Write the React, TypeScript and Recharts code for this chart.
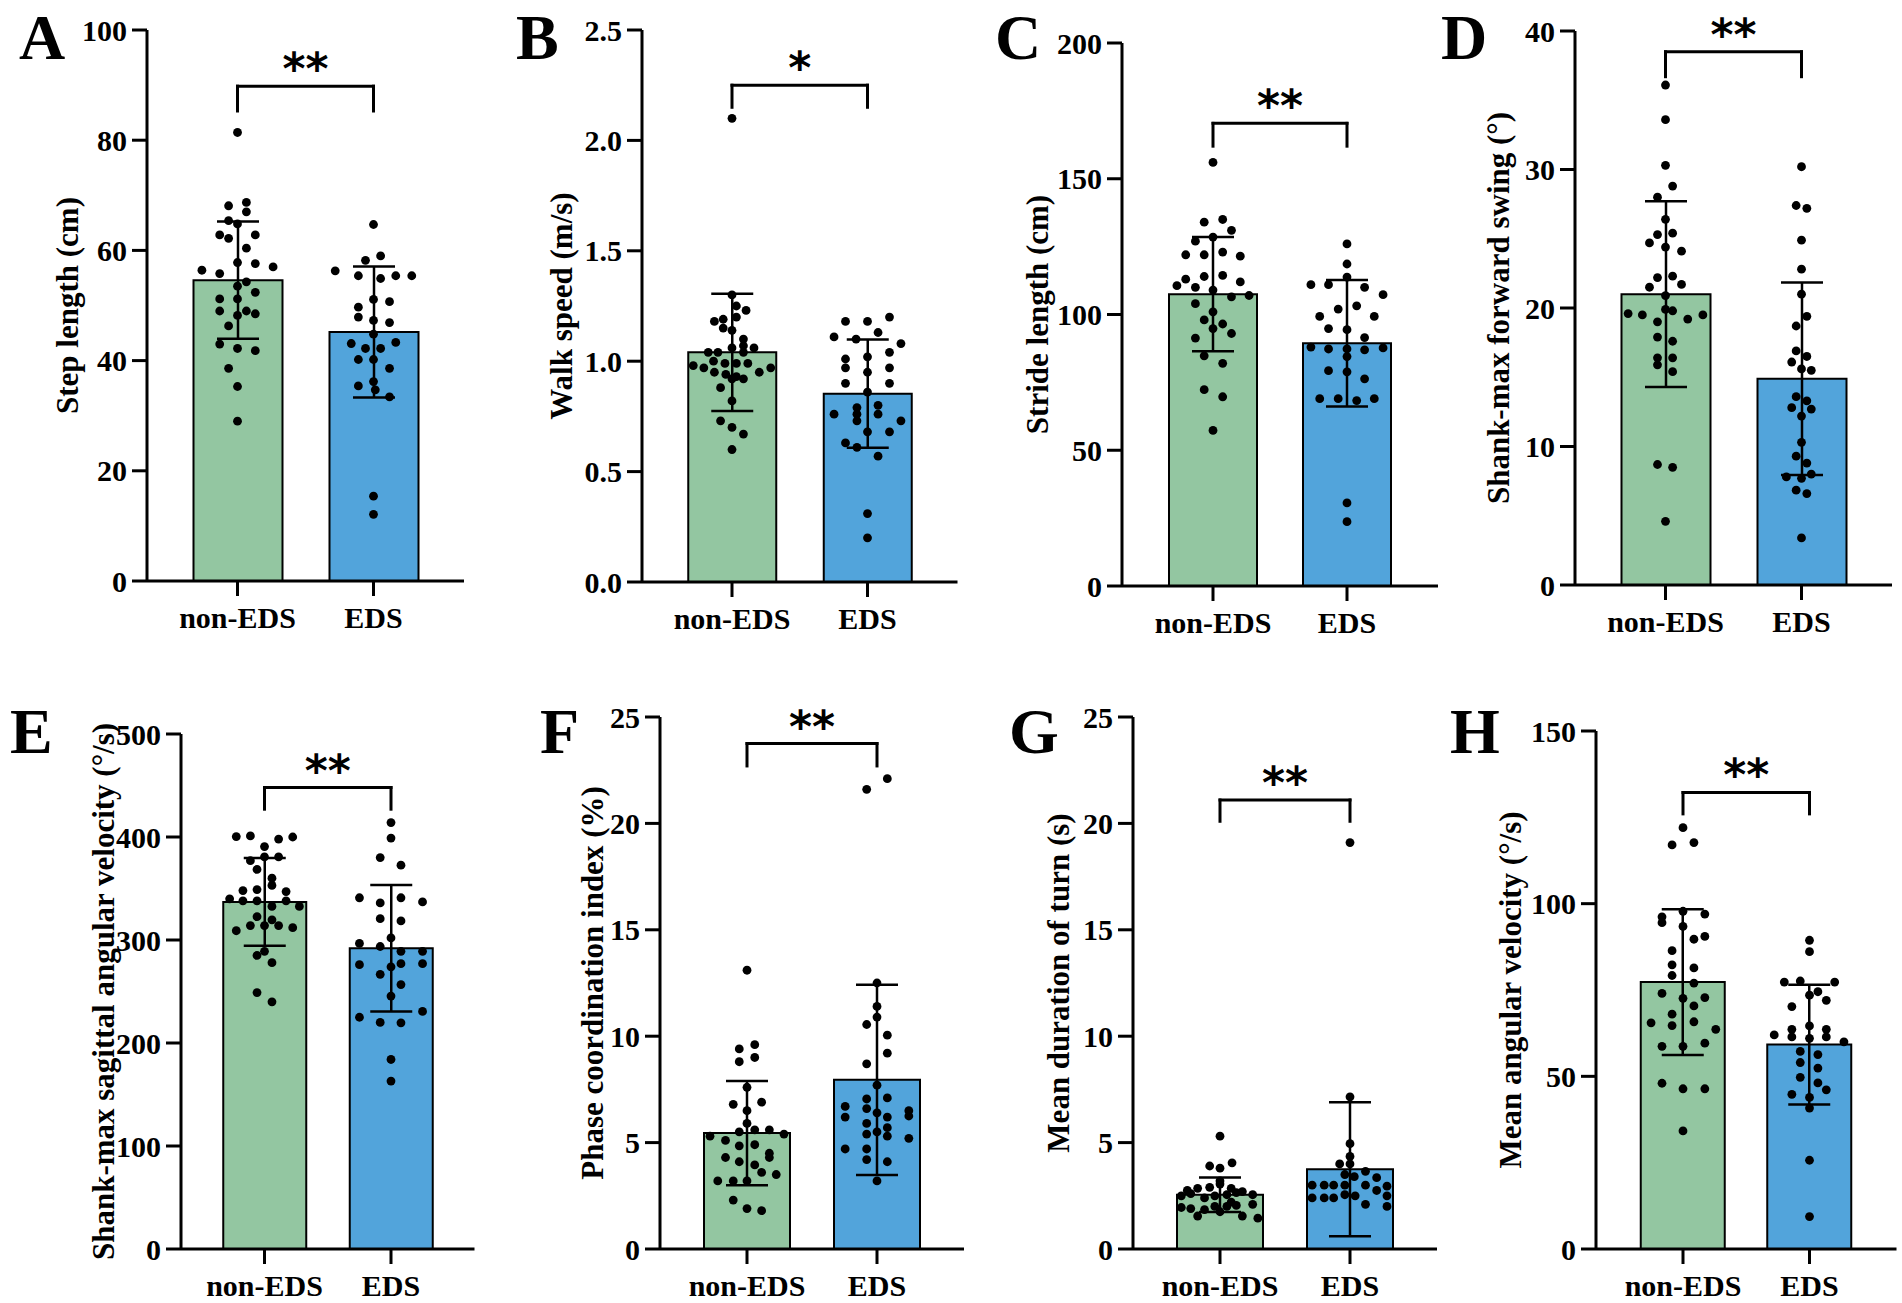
import React from "react";
import {
  ComposedChart,
  Bar,
  Cell,
  ErrorBar,
  Scatter,
  XAxis,
  YAxis,
  ReferenceLine,
  ReferenceDot,
} from "recharts";

// [horizontal offset in bar widths, value]
type Pt = [number, number];

const groups = ["non-EDS", "EDS"];
const barColors = ["#93c6a1", "#52a4db"];

// A - step length
const stepTicks = [0, 20, 40, 60, 80, 100];
const stepMean = [54.6, 45.2];
const stepSd = [10.65, 11.9];
const stepBracket = [85.3, 89.8];
const stepNon: Pt[] = [[0,81.4],[-0.1,68.1],[0.1,68.7],[-0.1,65.4],[0.1,67.0],[0,64.8],[-0.2,62.8],[-0.1,62.2],[0.2,62.8],[0.1,60.4],[0,57.8],[-0.4,56.4],[0.2,57.6],[0.4,57.0],[-0.2,55.8],[0.1,54.3],[0,53.5],[0.2,52.4],[-0.2,51.2],[0,51.2],[-0.2,49.0],[0.1,49.0],[0.2,48.5],[0,48.2],[-0.1,46.3],[-0.2,43.0],[0,42.2],[0.2,41.8],[-0.1,38.6],[0,35.3],[0,29.0]];
const stepEds: Pt[] = [[0,64.7],[-0.09,58.2],[0.08,59.0],[-0.43,56.3],[-0.17,55.4],[0.08,54.9],[0.25,55.4],[0.43,55.4],[0,51.1],[0.18,50.7],[-0.17,49.7],[-0.17,47.9],[0,47.3],[0.18,46.9],[0,44.8],[-0.25,43.1],[-0.09,42.2],[0.08,42.2],[0.25,43.3],[-0.17,40.2],[0,40.2],[0.18,38.6],[-0.17,35.4],[0,36.2],[0.02,34.7],[0.18,33.4],[0,15.4],[0,12.1]];

// B - walk speed
const speedTicks = [0, 0.5, 1.0, 1.5, 2.0, 2.5];
const speedMean = [1.04, 0.853];
const speedSd = [0.265, 0.245];
const speedBracket = [2.15, 2.25];
const speedNon: Pt[] = [[0,2.10],[0,1.30],[0.05,1.25],[-0.2,1.18],[-0.1,1.19],[0.16,1.23],[0.05,1.20],[-0.1,1.15],[0,1.14],[0.13,1.10],[0.13,1.07],[-0.27,1.04],[-0.16,1.04],[0,1.06],[0.13,1.04],[0.25,1.06],[-0.44,0.98],[-0.32,0.97],[-0.21,1.00],[-0.08,0.99],[0.05,0.99],[0.18,0.99],[0.31,0.95],[0.44,0.97],[-0.2,0.95],[-0.07,0.94],[0,0.92],[0.05,0.93],[0.13,0.92],[-0.13,0.88],[0,0.82],[-0.13,0.73],[0,0.70],[0.13,0.67],[0,0.60]];
const speedEds: Pt[] = [[-0.25,1.18],[0,1.18],[0.25,1.20],[-0.38,1.11],[-0.13,1.10],[0.12,1.13],[0.38,1.08],[-0.25,1.01],[0,1.02],[0.25,1.04],[-0.25,0.97],[0.25,0.97],[0,0.95],[-0.25,0.90],[0.25,0.90],[0,0.86],[-0.12,0.79],[0.12,0.80],[-0.38,0.76],[-0.12,0.76],[0.12,0.76],[-0.12,0.73],[0.38,0.73],[0,0.68],[0.25,0.68],[-0.25,0.63],[-0.12,0.61],[0.12,0.57],[0,0.31],[0,0.20]];

// C - stride length
const strideTicks = [0, 50, 100, 150, 200];
const strideMean = [107.5, 89.4];
const strideSd = [21, 23.3];
const strideBracket = [162, 170.4];
const strideNon: Pt[] = [[0,156],[-0.1,134],[0.11,135],[0.21,131],[-0.2,127],[0,128.5],[-0.31,122],[-0.1,122],[0.11,123],[0.31,121.5],[-0.31,113],[-0.1,114],[0.11,114.4],[0.31,112],[-0.41,110.6],[-0.2,110],[0,109],[0.21,106.5],[0.41,107],[-0.2,104],[0,101],[-0.1,98],[0.11,96.5],[0,94.8],[0.21,93],[-0.2,91.3],[-0.1,84.8],[0.11,82],[-0.1,72.3],[0.11,69.7],[0,57.3]];
const strideEds: Pt[] = [[0,126],[0,118.6],[0,113.8],[-0.41,111],[-0.21,111],[0.2,110],[0.41,107.3],[-0.1,102],[0.11,103.2],[-0.31,99.3],[0.31,99.3],[-0.21,94.8],[0,94.4],[0.2,91.5],[-0.41,88],[-0.21,87.3],[0,87.3],[0.2,87],[0.41,87.7],[0,84.5],[-0.21,79.3],[0,78.9],[0.2,76.3],[-0.31,69],[-0.1,69],[0.11,68.3],[0.31,69],[0,30.6],[0,23.7]];

// D - shank-max forward swing
const swingTicks = [0, 10, 20, 30, 40];
const swingMean = [21.0, 14.9];
const swingSd = [6.7, 6.95];
const swingBracket = [36.7, 38.5];
const swingNon: Pt[] = [[0,36.1],[0,33.6],[0,30.3],[0.08,28.8],[-0.09,28.0],[0,26.4],[-0.09,25.3],[0.08,25.4],[-0.18,24.7],[0,24.4],[0.18,24.1],[-0.09,22.2],[0.08,22.3],[-0.18,21.5],[0.18,21.7],[0,20.9],[-0.42,19.6],[-0.26,19.5],[0,19.9],[0.08,19.8],[0.25,19.2],[0.42,19.5],[-0.09,19.0],[-0.09,17.9],[0.08,17.6],[-0.09,16.4],[0.08,16.4],[-0.09,15.9],[0.08,15.4],[-0.09,8.7],[0.08,8.5],[0,4.6]];
const swingEds: Pt[] = [[0,30.2],[-0.06,27.4],[0.06,27.2],[0,24.9],[0,22.8],[0,21.0],[0.06,19.4],[-0.06,18.7],[-0.06,16.9],[0.06,16.5],[-0.11,16.1],[0,15.6],[0.11,15.5],[-0.06,13.6],[0.06,13.3],[-0.11,12.8],[0.11,12.7],[0,12.2],[0,10.3],[-0.06,9.3],[0.06,8.8],[-0.17,7.8],[0,7.7],[0.11,8.0],[-0.06,6.85],[0.06,6.6],[0,3.4]];

// E - shank-max sagittal angular velocity
const sagTicks = [0, 100, 200, 300, 400, 500];
const sagMean = [337, 292];
const sagSd = [42.5, 61.5];
const sagBracket = [427, 448];
const sagNon: Pt[] = [[-0.34,400.4],[-0.17,401],[0.17,398],[0.34,400],[0,390.7],[-0.17,377],[0,380.7],[0.17,380.7],[-0.09,368.5],[0.09,360],[0.09,353],[-0.26,348],[-0.09,349],[0.26,347],[-0.42,340],[-0.26,338],[-0.09,338],[0.09,332.6],[0.26,338],[0.42,332.6],[-0.09,322.6],[0.09,319.6],[-0.34,309],[-0.17,314],[0,314],[0.17,314],[0.34,312],[-0.09,285],[0,289],[0.09,278],[-0.09,249],[0.09,240]];
const sagEds: Pt[] = [[0,414],[0,399],[-0.13,380],[0.12,372.6],[-0.38,341],[-0.13,336],[0.12,341],[0.38,337],[-0.13,320.7],[0.12,318.5],[0,302],[-0.38,296.7],[-0.13,293.7],[0.12,289],[0.38,289],[-0.38,276],[-0.13,266.7],[0,274],[0.12,277],[0.38,277],[0.12,256.7],[0,245.6],[-0.38,225],[-0.13,220],[0.12,219.6],[0.38,230.7],[0,184],[0,163]];

// F - phase coordination index
const pciTicks = [0, 5, 10, 15, 20, 25];
const pciMean = [5.45, 7.95];
const pciSd = [2.45, 4.47];
const pciBracket = [22.7, 23.75];
const pciNon: Pt[] = [[0,13.1],[-0.09,9.4],[0.09,9.6],[-0.09,8.8],[0.09,9.0],[0,7.6],[-0.16,6.8],[0.17,6.9],[0,6.5],[0,5.9],[-0.43,5.3],[-0.25,5.1],[-0.09,5.5],[0.09,5.6],[0.26,5.6],[0.43,5.4],[-0.09,4.85],[0.09,4.9],[0.26,4.5],[-0.25,4.3],[-0.09,4.1],[0.09,3.95],[0.26,4.3],[0.17,3.6],[0.34,3.5],[-0.34,3.2],[-0.16,3.2],[0,3.2],[-0.16,2.3],[0,1.9],[0.17,1.8]];
const pciEds: Pt[] = [[-0.12,21.6],[0.12,22.1],[0,12.5],[0,11.4],[0,10.9],[-0.12,10.55],[0.12,10.05],[0.12,9.2],[-0.12,8.7],[0,7.7],[-0.37,6.7],[-0.12,7.05],[0.12,7.1],[0.37,6.5],[-0.37,6.2],[-0.12,6.6],[0,6.4],[0.12,6.2],[0.37,6.25],[-0.12,5.9],[0.12,5.7],[-0.12,5.4],[0,5.5],[0.12,5.3],[0.37,5.2],[-0.37,4.7],[-0.12,4.7],[-0.12,4.2],[0.12,4.1],[0,3.2]];

// G - mean duration of turn
const turnTicks = [0, 5, 10, 15, 20, 25];
const turnMean = [2.55, 3.75];
const turnSd = [0.81, 3.15];
const turnBracket = [20.1, 21.1];
const turnNon: Pt[] = [[0,5.3],[-0.12,3.9],[0,3.8],[0.14,4.05],[0,3.2],[-0.26,2.85],[-0.12,2.9],[0,3.05],[0.13,2.85],[0.26,2.7],[-0.45,2.5],[-0.34,2.6],[-0.18,2.4],[-0.06,2.5],[0.08,2.55],[0.19,2.65],[0.38,2.55],[-0.45,1.95],[-0.34,1.9],[-0.18,1.85],[-0.06,2.0],[0.08,2.0],[0.19,2.05],[0.38,2.1],[-0.26,1.55],[0.26,1.55],[0.44,1.45],[-0.38,2.75],[0.13,2.2],[0,1.75]];
const turnEds: Pt[] = [[0,19.1],[0,7.15],[0,4.95],[0,4.35],[-0.12,4.0],[0,4.0],[0.18,3.65],[0.05,3.4],[-0.06,3.5],[-0.44,3.0],[-0.3,3.0],[-0.19,3.0],[-0.06,3.0],[0.18,3.0],[0.31,3.35],[0.43,2.95],[-0.44,2.4],[-0.3,2.4],[-0.19,2.4],[-0.06,2.55],[0.06,2.5],[0.31,2.75],[0.43,2.5],[0.18,2.1],[0.43,2.0]];

// H - mean angular velocity
const angTicks = [0, 50, 100, 150];
const angMean = [77.3, 59.2];
const angSd = [21.1, 17.35];
const angBracket = [126, 132.2];
const angNon: Pt[] = [[0,122],[-0.13,117],[0.13,117.7],[0,97.8],[-0.25,96.2],[0.26,97],[0,93.4],[-0.25,94.5],[0.13,89.7],[0.26,90.5],[-0.13,86.4],[-0.13,82.3],[-0.13,79.2],[0.13,81.4],[0.13,77],[-0.25,74],[0,72.6],[0.26,72.8],[0.13,70.4],[-0.13,68],[-0.38,65.5],[-0.13,64.7],[0.13,65.8],[0.39,63.6],[-0.25,58.7],[0,58.7],[0.26,59.6],[-0.25,48],[0,46.4],[0.26,46.4],[0,34.2]];
const angEds: Pt[] = [[0,89.4],[0,86.1],[-0.3,77.3],[-0.11,77.6],[0.3,77.3],[0,73.5],[0.1,74.5],[0.2,72],[-0.21,70.2],[-0.42,62],[-0.21,63.6],[0,64.6],[0.2,63.6],[-0.21,61.4],[0,61],[0.2,61.4],[0.41,60],[-0.11,57.2],[0.1,56.3],[-0.11,54],[0.1,52.4],[-0.11,49.7],[0.1,48.1],[0.2,46.1],[-0.21,44.8],[0,43.9],[0,40.8],[0,25.7],[0,9.4]];

const SERIF = '"Liberation Serif", "Times New Roman", serif';
const YW = 120; // y axis area width
const MT = 30; // space above plot
const XH = 54; // x axis area height
const MR = 6;

type Geo = { x0: number; c1: number; c2: number; top: number; bottom: number; barW: number; titleOff: number };

type PanelDef = {
  letter: string;
  lx: number;
  ly: number;
  title: string;
  ticks: number[];
  dec: number;
  mean: number[];
  sd: number[];
  pts: Pt[][];
  bracket: number[];
  star: string;
  geo: Geo;
};

const panels: PanelDef[] = [
  { letter: "A", lx: 19, ly: 59, title: "Step length (cm)", ticks: stepTicks, dec: 0, mean: stepMean, sd: stepSd, pts: [stepNon, stepEds], bracket: stepBracket, star: "**",
    geo: { x0: 147, c1: 237.5, c2: 373.5, top: 30, bottom: 581, barW: 89, titleOff: 80 } },
  { letter: "B", lx: 516, ly: 59, title: "Walk speed (m/s)", ticks: speedTicks, dec: 1, mean: speedMean, sd: speedSd, pts: [speedNon, speedEds], bracket: speedBracket, star: "*",
    geo: { x0: 642, c1: 732, c2: 867.5, top: 30, bottom: 582, barW: 88, titleOff: 81 } },
  { letter: "C", lx: 995, ly: 59, title: "Stride length (cm)", ticks: strideTicks, dec: 0, mean: strideMean, sd: strideSd, pts: [strideNon, strideEds], bracket: strideBracket, star: "**",
    geo: { x0: 1122, c1: 1213, c2: 1347, top: 43, bottom: 586, barW: 88, titleOff: 85 } },
  { letter: "D", lx: 1441, ly: 59, title: "Shank-max forward swing (°)", ticks: swingTicks, dec: 0, mean: swingMean, sd: swingSd, pts: [swingNon, swingEds], bracket: swingBracket, star: "**",
    geo: { x0: 1575, c1: 1665.5, c2: 1801.5, top: 31, bottom: 585, barW: 89, titleOff: 77 } },
  { letter: "E", lx: 10, ly: 753, title: "Shank-max sagittal angular velocity (°/s)", ticks: sagTicks, dec: 0, mean: sagMean, sd: sagSd, pts: [sagNon, sagEds], bracket: sagBracket, star: "**",
    geo: { x0: 181, c1: 264.5, c2: 391, top: 734, bottom: 1249, barW: 83, titleOff: 78 } },
  { letter: "F", lx: 540, ly: 753, title: "Phase coordination index (%)", ticks: pciTicks, dec: 0, mean: pciMean, sd: pciSd, pts: [pciNon, pciEds], bracket: pciBracket, star: "**",
    geo: { x0: 660, c1: 747, c2: 877, top: 717, bottom: 1249, barW: 86, titleOff: 68 } },
  { letter: "G", lx: 1009, ly: 753, title: "Mean duration of turn (s)", ticks: turnTicks, dec: 0, mean: turnMean, sd: turnSd, pts: [turnNon, turnEds], bracket: turnBracket, star: "**",
    geo: { x0: 1133, c1: 1220, c2: 1350, top: 717, bottom: 1249, barW: 86, titleOff: 75 } },
  { letter: "H", lx: 1450, ly: 753, title: "Mean angular velocity (°/s)", ticks: angTicks, dec: 0, mean: angMean, sd: angSd, pts: [angNon, angEds], bracket: angBracket, star: "**",
    geo: { x0: 1596, c1: 1683, c2: 1809.5, top: 731, bottom: 1249, barW: 84, titleOff: 86 } },
];

const axisStroke = { stroke: "#000", strokeWidth: 3 };
const tickFont = { fill: "#000", fontSize: 30, fontWeight: 700, fontFamily: SERIF };

function Panel({ p }: { p: PanelDef }) {
  const { x0, c1, c2, top, bottom, barW, titleOff } = p.geo;
  const band = c2 - c1;
  const lead = c1 - x0;
  const W = 2 * lead + band;
  const pad = lead - band / 2;
  const H = bottom - top;
  const width = YW + W + MR;
  const height = MT + H + XH;

  const bars = groups.map((g, i) => ({ name: g, mean: p.mean[i], sd: p.sd[i] }));
  const dots = p.pts.flatMap((set, i) =>
    set.map(([o, v]) => ({ x: i + 0.5 + (o * barW) / band, v }))
  );
  const [armY, barY] = p.bracket;

  return (
    <div style={{ position: "absolute", left: x0 - YW, top: top - MT, width, height }}>
      <ComposedChart
        width={width}
        height={height}
        data={bars}
        margin={{ top: MT, right: MR, left: 0, bottom: 0 }}
      >
        <XAxis
          xAxisId="cat"
          dataKey="name"
          type="category"
          padding={{ left: pad, right: pad }}
          height={XH}
          interval={0}
          tickSize={15}
          tickMargin={11}
          axisLine={axisStroke}
          tickLine={axisStroke}
          tick={tickFont}
        />
        <XAxis
          xAxisId="num"
          dataKey="x"
          type="number"
          domain={[0, 2]}
          padding={{ left: pad, right: pad }}
          allowDataOverflow
          hide
        />
        <YAxis
          type="number"
          domain={[0, p.ticks[p.ticks.length - 1]]}
          ticks={p.ticks}
          interval={0}
          width={YW}
          tickSize={15}
          tickMargin={5}
          axisLine={axisStroke}
          tickLine={axisStroke}
          tick={tickFont}
          tickFormatter={(v: number) => v.toFixed(p.dec)}
          allowDataOverflow
        />
        <Bar
          xAxisId="cat"
          dataKey="mean"
          barSize={barW}
          stroke="#000"
          strokeWidth={2}
          isAnimationActive={false}
        >
          {bars.map((b, i) => (
            <Cell key={b.name} fill={barColors[i]} />
          ))}
          <ErrorBar dataKey="sd" direction="y" width={21} stroke="#000" strokeWidth={2.5} />
        </Bar>
        <Scatter
          xAxisId="num"
          data={dots}
          dataKey="v"
          isAnimationActive={false}
          shape={(s: any) => <circle cx={s.cx} cy={s.cy} r={4.4} fill="#000" />}
        />
        <ReferenceLine
          xAxisId="num"
          segment={[{ x: 0.5, y: armY }, { x: 0.5, y: barY }]}
          strokeLinecap="square"
          {...axisStroke}
        />
        <ReferenceLine
          xAxisId="num"
          segment={[{ x: 1.5, y: armY }, { x: 1.5, y: barY }]}
          strokeLinecap="square"
          {...axisStroke}
        />
        <ReferenceLine
          xAxisId="num"
          segment={[{ x: 0.5, y: barY }, { x: 1.5, y: barY }]}
          strokeLinecap="square"
          {...axisStroke}
        />
        <ReferenceDot
          xAxisId="num"
          x={1}
          y={barY}
          r={0}
          ifOverflow="visible"
          shape={(s: any) => (
            <text
              x={s.cx}
              y={s.cy - 2}
              textAnchor="middle"
              fontFamily='"DejaVu Sans", sans-serif'
              fontWeight={700}
              fontSize={44}
              fill="#000"
            >
              {p.star}
            </text>
          )}
        />
      </ComposedChart>
      <svg
        width={width}
        height={height}
        style={{ position: "absolute", left: 0, top: 0, pointerEvents: "none", overflow: "visible" }}
      >
        <text
          x={YW - titleOff}
          y={MT + H / 2}
          transform={`rotate(-90, ${YW - titleOff}, ${MT + H / 2})`}
          textAnchor="middle"
          dominantBaseline="central"
          fontFamily={SERIF}
          fontWeight={700}
          fontSize={31}
          fill="#000"
        >
          {p.title}
        </text>
      </svg>
    </div>
  );
}

export default function App() {
  return (
    <div
      style={{
        position: "absolute",
        left: 0,
        top: 0,
        width: 1902,
        height: 1303,
        background: "#fff",
        overflow: "hidden",
      }}
    >
      {panels.map((p) => (
        <Panel key={p.letter} p={p} />
      ))}
      <svg width={1902} height={1303} style={{ position: "absolute", left: 0, top: 0, pointerEvents: "none" }}>
        {panels.map((p) => (
          <text key={p.letter} x={p.lx} y={p.ly} fontFamily={SERIF} fontWeight={700} fontSize={64} fill="#000">
            {p.letter}
          </text>
        ))}
      </svg>
    </div>
  );
}
